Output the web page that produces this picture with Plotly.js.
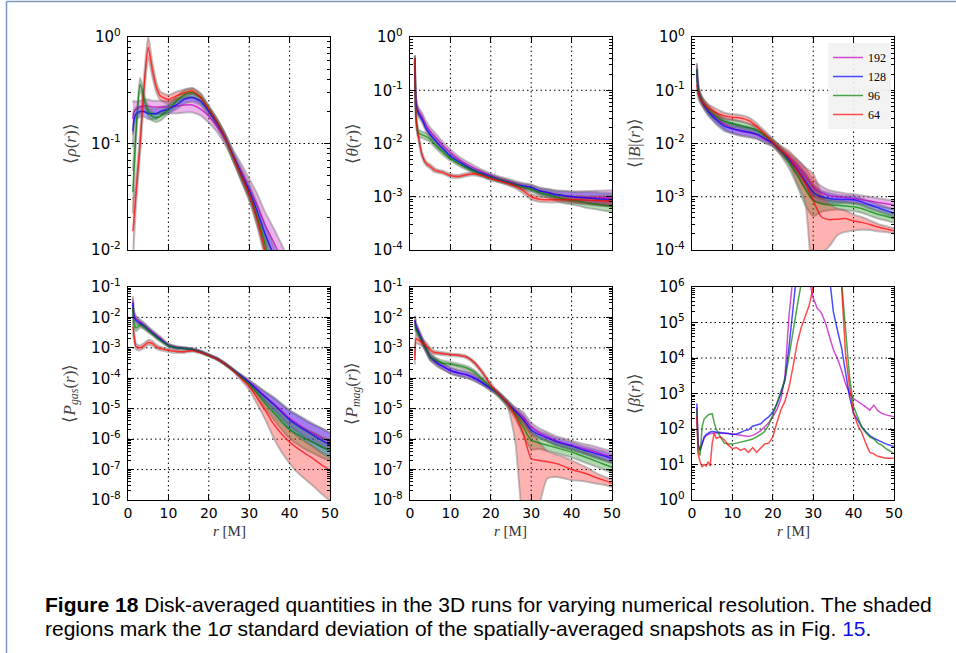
<!DOCTYPE html>
<html><head><meta charset="utf-8">
<script src="https://cdn.plot.ly/plotly-3.0.1.min.js"></script>
<style>html,body{margin:0;padding:0;background:#fff;}#chart{width:956px;height:653px;}</style>
</head><body><div id="chart"></div>
<script>
// ---------------- DATA ----------------
const resolutions = ["192", "128", "96", "64"];
const r = [1.2, 1.5, 2, 3, 4, 5, 6, 7, 8, 10, 12, 14, 16, 18, 20, 22, 24, 26, 28, 30, 32, 34, 36, 38, 40, 42, 44, 46, 48, 50];
const xTicks = [0, 10, 20, 30, 40, 50];

// <rho(r)>
const rho192 = [0.17, 0.2, 0.21, 0.22, 0.225, 0.225, 0.22, 0.22, 0.22, 0.22, 0.225, 0.23, 0.23, 0.21, 0.18, 0.145, 0.11, 0.078, 0.055, 0.038, 0.026, 0.017, 0.012, 0.0082, 0.0055, 0.0037, 0.0025, 0.0017, 0.0012, 0.0008];
const rho128 = [0.13, 0.17, 0.19, 0.2, 0.2, 0.19, 0.19, 0.19, 0.2, 0.21, 0.23, 0.26, 0.27, 0.25, 0.2, 0.155, 0.115, 0.077, 0.052, 0.036, 0.023, 0.014, 0.009, 0.0055, 0.0033, 0.002, 0.0012, 0.0008, 0.0005, 0.0003];
const rho96  = [0.035, 0.06, 0.13, 0.36, 0.26, 0.2, 0.18, 0.175, 0.18, 0.21, 0.25, 0.29, 0.3, 0.27, 0.21, 0.16, 0.115, 0.075, 0.05, 0.034, 0.02, 0.011, 0.0055, 0.0028, 0.0014, 0.0007, 0.00035, 0.0002, 0.0001, 0.00005];
const rho64  = [0.015, 0.02, 0.035, 0.1, 0.35, 0.8, 0.5, 0.34, 0.28, 0.26, 0.28, 0.3, 0.31, 0.27, 0.21, 0.16, 0.115, 0.075, 0.05, 0.033, 0.019, 0.0095, 0.0045, 0.002, 0.001, 0.0005, 0.00025, 0.00012, 0.00006, 0.00003];
const rho192_sd = [0.15, 0.1, 0.07, 0.06, 0.06, 0.06, 0.06, 0.06, 0.06, 0.06, 0.07, 0.07, 0.07, 0.06, 0.06, 0.05, 0.05, 0.05, 0.07, 0.09, 0.11, 0.12, 0.13, 0.14, 0.15, 0.15, 0.15, 0.15, 0.15, 0.15];
const rho128_sd = [0.15, 0.08, 0.06, 0.05, 0.05, 0.05, 0.05, 0.05, 0.04, 0.04, 0.04, 0.04, 0.04, 0.04, 0.04, 0.04, 0.04, 0.04, 0.05, 0.06, 0.07, 0.08, 0.09, 0.1, 0.1, 0.1, 0.1, 0.1, 0.1, 0.1];
const rho96_sd  = [0.2, 0.15, 0.08, 0.06, 0.05, 0.05, 0.04, 0.04, 0.04, 0.04, 0.04, 0.04, 0.04, 0.04, 0.03, 0.03, 0.03, 0.04, 0.05, 0.06, 0.07, 0.08, 0.08, 0.08, 0.08, 0.08, 0.08, 0.08, 0.08, 0.08];
const rho64_sd  = [0.3, 0.2, 0.12, 0.1, 0.1, 0.1, 0.07, 0.05, 0.04, 0.04, 0.04, 0.03, 0.03, 0.03, 0.03, 0.03, 0.03, 0.03, 0.04, 0.05, 0.06, 0.07, 0.08, 0.08, 0.08, 0.08, 0.08, 0.08, 0.08, 0.08];

// <theta(r)>
const th192 = [0.4, 0.06, 0.042, 0.032, 0.022, 0.017, 0.014, 0.0115, 0.0095, 0.0068, 0.0051, 0.0041, 0.0034, 0.0029, 0.0025, 0.0022, 0.002, 0.0018, 0.0016, 0.0015, 0.0013, 0.0012, 0.0011, 0.00105, 0.001, 0.00098, 0.00097, 0.00096, 0.00095, 0.00094];
const th128 = [0.4, 0.055, 0.038, 0.028, 0.019, 0.0148, 0.012, 0.0098, 0.0082, 0.0058, 0.0046, 0.0037, 0.0031, 0.0027, 0.0024, 0.0021, 0.0019, 0.0017, 0.0016, 0.0015, 0.0013, 0.0012, 0.0011, 0.00105, 0.001, 0.00097, 0.00095, 0.00092, 0.0009, 0.00088];
const th96  = [0.4, 0.03, 0.016, 0.0145, 0.0135, 0.012, 0.0098, 0.0082, 0.007, 0.0052, 0.0042, 0.0035, 0.003, 0.0026, 0.0023, 0.0021, 0.0019, 0.0017, 0.0015, 0.0014, 0.0012, 0.0011, 0.001, 0.00092, 0.00086, 0.00082, 0.00077, 0.00073, 0.00069, 0.00065];
const th64  = [0.4, 0.03, 0.015, 0.006, 0.0042, 0.0037, 0.0032, 0.003, 0.0029, 0.0025, 0.0024, 0.0026, 0.0027, 0.0025, 0.0022, 0.002, 0.0018, 0.0016, 0.0013, 0.001, 0.0009, 0.00088, 0.00088, 0.00088, 0.00088, 0.00087, 0.00086, 0.00085, 0.00084, 0.00083];
const th192_sd = [0.05, 0.08, 0.07, 0.07, 0.07, 0.07, 0.07, 0.07, 0.06, 0.06, 0.05, 0.05, 0.05, 0.04, 0.04, 0.04, 0.04, 0.04, 0.05, 0.05, 0.06, 0.07, 0.08, 0.09, 0.1, 0.11, 0.12, 0.13, 0.14, 0.15];
const th128_sd = [0.05, 0.08, 0.07, 0.06, 0.06, 0.06, 0.06, 0.06, 0.05, 0.05, 0.04, 0.04, 0.04, 0.04, 0.04, 0.04, 0.04, 0.04, 0.04, 0.05, 0.05, 0.06, 0.07, 0.08, 0.09, 0.1, 0.11, 0.12, 0.12, 0.12];
const th96_sd  = [0.05, 0.1, 0.07, 0.06, 0.06, 0.05, 0.05, 0.05, 0.05, 0.04, 0.04, 0.04, 0.04, 0.04, 0.04, 0.04, 0.04, 0.04, 0.04, 0.05, 0.05, 0.06, 0.07, 0.08, 0.08, 0.09, 0.1, 0.1, 0.1, 0.1];
const th64_sd  = [0.05, 0.1, 0.08, 0.05, 0.04, 0.04, 0.04, 0.03, 0.03, 0.03, 0.03, 0.03, 0.03, 0.03, 0.03, 0.03, 0.03, 0.04, 0.05, 0.05, 0.05, 0.05, 0.05, 0.05, 0.06, 0.07, 0.08, 0.09, 0.1, 0.1];

// <|B|(r)>
const B192 = [0.26, 0.12, 0.077, 0.053, 0.042, 0.035, 0.03, 0.026, 0.023, 0.019, 0.017, 0.016, 0.0145, 0.012, 0.0101, 0.0075, 0.0055, 0.0038, 0.0025, 0.0015, 0.0012, 0.00105, 0.001, 0.00096, 0.00093, 0.00088, 0.00083, 0.00078, 0.00074, 0.0007];
const B128 = [0.24, 0.11, 0.075, 0.052, 0.04, 0.033, 0.028, 0.024, 0.021, 0.019, 0.0175, 0.0165, 0.015, 0.0125, 0.0101, 0.0072, 0.005, 0.0033, 0.002, 0.0012, 0.001, 0.00093, 0.0009, 0.00089, 0.00088, 0.0008, 0.0007, 0.00062, 0.00055, 0.00049];
const B96  = [0.25, 0.11, 0.077, 0.055, 0.044, 0.037, 0.032, 0.028, 0.026, 0.024, 0.022, 0.02, 0.018, 0.014, 0.0105, 0.0072, 0.0045, 0.0026, 0.0014, 0.00086, 0.00074, 0.0007, 0.00069, 0.00067, 0.00065, 0.0006, 0.00053, 0.00047, 0.00043, 0.00039];
const B64  = [0.127, 0.09, 0.07, 0.055, 0.046, 0.042, 0.038, 0.035, 0.033, 0.031, 0.03, 0.027, 0.021, 0.015, 0.0105, 0.0075, 0.0055, 0.0032, 0.0018, 0.00086, 0.00042, 0.00037, 0.00038, 0.00039, 0.00035, 0.00033, 0.0003, 0.00027, 0.00025, 0.00023];
const B192_sd = [0.1, 0.08, 0.07, 0.07, 0.08, 0.08, 0.09, 0.09, 0.09, 0.09, 0.09, 0.09, 0.08, 0.07, 0.06, 0.06, 0.08, 0.12, 0.15, 0.15, 0.12, 0.1, 0.09, 0.08, 0.08, 0.08, 0.08, 0.08, 0.08, 0.08];
const B128_sd = [0.1, 0.08, 0.07, 0.07, 0.08, 0.08, 0.09, 0.09, 0.09, 0.09, 0.09, 0.09, 0.08, 0.07, 0.06, 0.06, 0.08, 0.12, 0.15, 0.15, 0.12, 0.1, 0.08, 0.07, 0.07, 0.07, 0.07, 0.07, 0.07, 0.07];
const B96_sd  = [0.1, 0.08, 0.07, 0.07, 0.07, 0.07, 0.07, 0.07, 0.07, 0.07, 0.07, 0.07, 0.07, 0.06, 0.06, 0.08, 0.12, 0.2, 0.3, 0.3, 0.15, 0.1, 0.08, 0.08, 0.08, 0.08, 0.08, 0.08, 0.08, 0.08];
const B64_sd  = [0.1, 0.1, 0.08, 0.08, 0.08, 0.07, 0.07, 0.07, 0.06, 0.06, 0.06, 0.06, 0.06, 0.06, 0.06, 0.08, 0.12, 0.2, 0.3, 0.5, 0.45, 0.3, 0.2, 0.15, 0.12, 0.1, 0.08, 0.06, 0.05, 0.05];
const B64_sdLow = [0.1, 0.1, 0.08, 0.08, 0.08, 0.07, 0.07, 0.07, 0.06, 0.06, 0.06, 0.06, 0.06, 0.06, 0.06, 0.08, 0.12, 0.25, 0.35, 1.5, 0.7, 0.5, 0.3, 0.25, 0.18, 0.14, 0.1, 0.08, 0.06, 0.05];

// <P_gas(r)>
const Pg192 = [0.036, 0.012, 0.009, 0.0071, 0.0055, 0.0042, 0.0033, 0.0026, 0.0021, 0.00125, 0.00105, 0.00098, 0.0009, 0.00075, 0.00058, 0.00045, 0.0003, 0.00019, 0.00012, 7.6e-5, 4.4e-5, 2.5e-5, 1.5e-5, 8.5e-6, 4.8e-6, 3.2e-6, 2.1e-6, 1.5e-6, 1.1e-6, 8e-7];
const Pg128 = [0.03, 0.011, 0.008, 0.0065, 0.0052, 0.004, 0.0031, 0.0024, 0.0019, 0.0012, 0.001, 0.00095, 0.00088, 0.00074, 0.00057, 0.00044, 0.0003, 0.00019, 0.00012, 7.2e-5, 4.2e-5, 2.4e-5, 1.4e-5, 7.8e-6, 4.3e-6, 2.8e-6, 1.9e-6, 1.3e-6, 9e-7, 6.5e-7];
const Pg96  = [0.02, 0.006, 0.0045, 0.0055, 0.005, 0.0038, 0.003, 0.0023, 0.0018, 0.0012, 0.001, 0.00095, 0.00088, 0.00074, 0.00057, 0.00044, 0.0003, 0.00019, 0.00011, 6.5e-5, 3.2e-5, 1.5e-5, 7.5e-6, 3.8e-6, 2.1e-6, 1.4e-6, 1e-6, 7.5e-7, 5.5e-7, 4.3e-7];
const Pg64  = [0.005, 0.0025, 0.0011, 0.001, 0.0012, 0.0015, 0.0014, 0.0011, 0.00095, 0.00083, 0.00076, 0.00075, 0.00082, 0.0007, 0.00056, 0.00043, 0.00029, 0.00018, 0.0001, 5.5e-5, 2.2e-5, 8.6e-6, 3.2e-6, 1.5e-6, 8e-7, 5e-7, 3.3e-7, 2.2e-7, 1.4e-7, 9.5e-8];
const Pg192_sd = [0.15, 0.12, 0.1, 0.08, 0.08, 0.07, 0.06, 0.06, 0.05, 0.04, 0.04, 0.03, 0.03, 0.03, 0.03, 0.03, 0.03, 0.03, 0.04, 0.06, 0.1, 0.14, 0.18, 0.22, 0.25, 0.27, 0.28, 0.29, 0.3, 0.3];
const Pg128_sd = [0.15, 0.12, 0.1, 0.08, 0.08, 0.07, 0.06, 0.06, 0.05, 0.04, 0.04, 0.03, 0.03, 0.03, 0.03, 0.03, 0.03, 0.03, 0.04, 0.07, 0.12, 0.18, 0.24, 0.28, 0.32, 0.35, 0.37, 0.38, 0.4, 0.4];
const Pg96_sd  = [0.2, 0.15, 0.1, 0.08, 0.08, 0.07, 0.06, 0.06, 0.05, 0.04, 0.04, 0.03, 0.03, 0.03, 0.03, 0.03, 0.03, 0.03, 0.04, 0.07, 0.12, 0.18, 0.22, 0.26, 0.3, 0.32, 0.34, 0.35, 0.35, 0.35];
const Pg64_sd  = [0.2, 0.15, 0.1, 0.08, 0.08, 0.08, 0.08, 0.07, 0.06, 0.05, 0.05, 0.04, 0.04, 0.03, 0.03, 0.03, 0.03, 0.03, 0.05, 0.1, 0.15, 0.22, 0.3, 0.35, 0.4, 0.4, 0.4, 0.4, 0.4, 0.4];
const Pg64_sdLow = [0.2, 0.15, 0.1, 0.08, 0.08, 0.08, 0.08, 0.07, 0.06, 0.05, 0.05, 0.04, 0.04, 0.03, 0.03, 0.03, 0.03, 0.03, 0.06, 0.12, 0.2, 0.3, 0.45, 0.6, 0.7, 0.8, 0.85, 0.9, 0.95, 1.0];

// <P_mag(r)>
const Pm192 = [0.008, 0.005, 0.0038, 0.0018, 0.0009, 0.0005, 0.00038, 0.0003, 0.00025, 0.00018, 0.00015, 0.00013, 0.000105, 7e-5, 4.6e-5, 3e-5, 1.6e-5, 9e-6, 5.5e-6, 2.5e-6, 1.6e-6, 1.2e-6, 9e-7, 7.5e-7, 6.3e-7, 5.3e-7, 4.5e-7, 3.8e-7, 3.1e-7, 2.6e-7];
const Pm128 = [0.008, 0.005, 0.0035, 0.0017, 0.0009, 0.0005, 0.00038, 0.0003, 0.00025, 0.00018, 0.00015, 0.00013, 0.0001, 7e-5, 4.6e-5, 3e-5, 1.6e-5, 8.5e-6, 4.5e-6, 2e-6, 1.4e-6, 1.1e-6, 8.5e-7, 7e-7, 6e-7, 4.8e-7, 4e-7, 3.3e-7, 2.8e-7, 2.3e-7];
const Pm96  = [0.006, 0.004, 0.003, 0.0016, 0.0009, 0.0005, 0.00042, 0.00036, 0.00032, 0.0003, 0.00026, 0.00022, 0.00016, 9e-5, 5e-5, 2.8e-5, 1.5e-5, 7e-6, 2.5e-6, 9.3e-7, 7.5e-7, 6.3e-7, 5.3e-7, 4.5e-7, 3.8e-7, 3e-7, 2.4e-7, 1.9e-7, 1.5e-7, 1.2e-7];
const Pm64  = [0.0004, 0.002, 0.0018, 0.0015, 0.0012, 0.00085, 0.0007, 0.00068, 0.00065, 0.0006, 0.00057, 0.0005, 0.00032, 0.00015, 6e-5, 3e-5, 1.6e-5, 6e-6, 1.6e-6, 2.3e-7, 2e-7, 1.8e-7, 1.6e-7, 1.3e-7, 1e-7, 8.5e-8, 7e-8, 5.5e-8, 4.5e-8, 3.5e-8];
const Pm192_sd = [0.15, 0.12, 0.1, 0.1, 0.1, 0.1, 0.1, 0.1, 0.1, 0.1, 0.1, 0.1, 0.1, 0.08, 0.07, 0.07, 0.08, 0.1, 0.15, 0.15, 0.15, 0.15, 0.15, 0.15, 0.15, 0.15, 0.16, 0.17, 0.18, 0.2];
const Pm128_sd = [0.15, 0.12, 0.1, 0.1, 0.1, 0.1, 0.1, 0.1, 0.1, 0.1, 0.1, 0.1, 0.1, 0.08, 0.07, 0.07, 0.08, 0.1, 0.15, 0.15, 0.12, 0.12, 0.12, 0.12, 0.12, 0.12, 0.13, 0.14, 0.15, 0.15];
const Pm96_sd  = [0.15, 0.12, 0.1, 0.1, 0.1, 0.1, 0.08, 0.08, 0.08, 0.06, 0.06, 0.06, 0.06, 0.06, 0.06, 0.07, 0.1, 0.15, 0.25, 0.3, 0.2, 0.18, 0.18, 0.18, 0.18, 0.18, 0.18, 0.18, 0.18, 0.18];
const Pm64_sd  = [0.15, 0.15, 0.12, 0.12, 0.1, 0.08, 0.06, 0.05, 0.05, 0.04, 0.04, 0.04, 0.05, 0.06, 0.06, 0.06, 0.08, 0.2, 0.5, 0.9, 0.6, 0.35, 0.3, 0.3, 0.3, 0.25, 0.2, 0.15, 0.12, 0.12];
const Pm64_sdLow = [0.15, 0.15, 0.12, 0.12, 0.1, 0.08, 0.06, 0.05, 0.05, 0.04, 0.04, 0.04, 0.05, 0.06, 0.06, 0.06, 0.1, 0.8, 3, 3, 1.5, 0.55, 0.45, 0.4, 0.35, 0.3, 0.25, 0.2, 0.15, 0.12];

// <beta(r)>
const rBeta = [1.2, 1.5, 2, 2.5, 3, 3.5, 4, 4.5, 5, 5.5, 6, 7, 8, 9, 10, 11, 12, 13, 14, 15, 16, 17, 18, 19, 20, 21, 22, 23, 24, 25, 26, 27, 28, 29, 30, 31, 32, 33, 34, 35, 36, 37, 38, 39, 40, 41, 42, 43, 44, 45, 46, 47, 48, 49, 50];
const beta192 = [400, 40, 25, 40, 55, 65, 70, 75, 75, 78, 78, 76, 76, 75, 72, 70, 68, 64, 62, 66, 75, 90, 115, 150, 220, 350, 700, 3000, 1.5e5, 2e6, 5e6, 8e6, 5e6, 1.5e6, 5e5, 2.5e5, 1.9e5, 1e5, 3.9e4, 1.7e4, 9.6e3, 4.6e3, 1.9e3, 1000, 720, 600, 525, 420, 340, 470, 330, 275, 250, 230, 220];
const beta128 = [525, 35, 25, 40, 60, 70, 78, 82, 85, 85, 82, 80, 78, 75, 70, 72, 80, 90, 95, 120, 130, 140, 180, 220, 300, 500, 1000, 2400, 2e4, 4e5, 3e6, 6e6, 8e6, 9e6, 9e6, 8e6, 6e6, 4e6, 2e6, 2e5, 6e4, 2e4, 4e3, 800, 275, 180, 115, 85, 65, 55, 48, 42, 38, 35, 32];
const beta96  = [350, 25, 18, 115, 190, 220, 250, 260, 270, 150, 100, 60, 40, 38, 38, 40, 42, 44, 48, 52, 60, 70, 85, 130, 250, 525, 1000, 2400, 1.1e4, 6e4, 2.7e5, 1.2e6, 5e6, 8e6, 9e6, 9e6, 9e6, 8e6, 7e6, 5e6, 3e6, 1.5e6, 6e4, 2.9e3, 420, 220, 115, 80, 60, 52, 40, 35, 28, 24, 20];
const beta64  = [220, 20, 12, 8.5, 10, 9, 12, 9, 40, 75, 55, 60, 50, 35, 28, 30, 25, 28, 22, 30, 22, 28, 38, 40, 60, 150, 350, 600, 1500, 5.6e3, 2.5e4, 7e4, 1.5e5, 3e5, 1e6, 3e6, 6e6, 8e6, 8e6, 6e6, 4e6, 1.2e6, 1.3e4, 1.5e3, 275, 130, 80, 40, 22, 20, 17, 16, 15, 15, 15];

// ---------------- STYLE / LAYOUT ----------------
const W = 956, H = 653;
const colPx = [[128, 330], [410, 612], [692, 894]];
const rowPx = [[37, 250], [287, 500]];
const baseColors = [[191, 0, 191], [0, 0, 255], [0, 128, 0], [255, 0, 0]];
const rgba = (c, a) => `rgba(${c[0]},${c[1]},${c[2]},${a})`;
const GRID = {color: '#000', width: 1, dash: '1.5px,3px'};

const panels = [
  {x: r, lines: [rho192, rho128, rho96, rho64], up: [rho192_sd, rho128_sd, rho96_sd, rho64_sd], dn: [rho192_sd, rho128_sd, rho96_sd, rho64_sd], yr: [-2, 0], title: '⟨<i>ρ</i>(<i>r</i>)⟩'},
  {x: r, lines: [th192, th128, th96, th64], up: [th192_sd, th128_sd, th96_sd, th64_sd], dn: [th192_sd, th128_sd, th96_sd, th64_sd], yr: [-4, 0], title: '⟨<i>θ</i>(<i>r</i>)⟩'},
  {x: r, lines: [B192, B128, B96, B64], up: [B192_sd, B128_sd, B96_sd, B64_sd], dn: [B192_sd, B128_sd, B96_sd, B64_sdLow], yr: [-4, 0], title: '⟨|<i>B</i>|(<i>r</i>)⟩', legend: true},
  {x: r, lines: [Pg192, Pg128, Pg96, Pg64], up: [Pg192_sd, Pg128_sd, Pg96_sd, Pg64_sd], dn: [Pg192_sd, Pg128_sd, Pg96_sd, Pg64_sdLow], yr: [-8, -1], title: '⟨<i>P</i><sub><i>gas</i></sub>(<i>r</i>)⟩'},
  {x: r, lines: [Pm192, Pm128, Pm96, Pm64], up: [Pm192_sd, Pm128_sd, Pm96_sd, Pm64_sd], dn: [Pm192_sd, Pm128_sd, Pm96_sd, Pm64_sdLow], yr: [-8, -1], title: '⟨<i>P</i><sub><i>mag</i></sub>(<i>r</i>)⟩'},
  {x: rBeta, lines: [beta192, beta128, beta96, beta64], up: null, dn: null, yr: [0, 6], title: '⟨<i>β</i>(<i>r</i>)⟩', jagged: true}
];

const traces = [];
const layout = {
  width: W, height: H, margin: {l: 0, r: 0, t: 0, b: 0},
  paper_bgcolor: '#ffffff', plot_bgcolor: 'rgba(0,0,0,0)',
  font: {family: 'DejaVu Sans', size: 13, color: '#000'},
  showlegend: true,
  legend: {x: 891 / W, xanchor: 'right', y: 1 - 43 / H, yanchor: 'top', traceorder: 'normal',
           bgcolor: 'rgba(242,242,242,0.92)', borderwidth: 0,
           font: {family: 'Liberation Serif', size: 12, color: '#000'},
           tracegroupgap: 0, itemwidth: 30},
  annotations: [], shapes: []
};

panels.forEach((p, i) => {
  const sfx = i === 0 ? '' : String(i + 1);
  const xa = 'x' + sfx, ya = 'y' + sfx;
  const row = i < 3 ? 0 : 1, col = i % 3;
  const shape = p.jagged ? 'linear' : 'spline';
  if (p.up) {
    p.lines.forEach((v, k) => {
      const lo = v.map((y, j) => y / Math.pow(10, p.dn[k][j]));
      const hi = v.map((y, j) => y * Math.pow(10, p.up[k][j]));
      traces.push({x: p.x, y: lo, xaxis: xa, yaxis: ya, mode: 'lines', showlegend: false, hoverinfo: 'skip',
                   line: {color: 'rgba(120,120,120,0.45)', width: 2, shape: shape, smoothing: 0.6}});
      traces.push({x: p.x, y: hi, xaxis: xa, yaxis: ya, mode: 'lines', showlegend: false, hoverinfo: 'skip',
                   fill: 'tonexty', fillcolor: rgba(baseColors[k], 0.3),
                   line: {color: 'rgba(120,120,120,0.45)', width: 2, shape: shape, smoothing: 0.6}});
    });
  }
  p.lines.forEach((v, k) => {
    traces.push({x: p.x, y: v, xaxis: xa, yaxis: ya, mode: 'lines', name: resolutions[k],
                 showlegend: !!p.legend,
                 line: {color: rgba(baseColors[k], 0.7), width: 1.5, shape: shape, smoothing: 0.6}});
  });

  const majors = [], labels = [], minors = [];
  for (let d = p.yr[0]; d <= p.yr[1]; d++) {
    majors.push(Math.pow(10, d));
    labels.push('10<sup>' + (d < 0 ? '-' + (-d) : d) + '</sup>');
    if (d < p.yr[1]) for (let m = 2; m <= 9; m++) minors.push(m * Math.pow(10, d));
    if (d > p.yr[0] && d < p.yr[1]) {
      const v = Math.pow(10, d);
      layout.shapes.push({type: 'line', xref: xa + ' domain', yref: ya, x0: 0, x1: 1, y0: v, y1: v, layer: 'below', line: GRID});
    }
  }
  xTicks.slice(1, -1).forEach(t => {
    layout.shapes.push({type: 'line', xref: xa, yref: ya + ' domain', x0: t, x1: t, y0: 0, y1: 1, layer: 'below', line: GRID});
  });

  layout['xaxis' + sfx] = {
    domain: [colPx[col][0] / W, colPx[col][1] / W], anchor: ya,
    range: [0, 50], tickmode: 'array', tickvals: xTicks,
    showticklabels: row === 1, ticks: 'inside', ticklen: 6, tickwidth: 1, tickcolor: '#000',
    showline: true, linecolor: '#000', linewidth: 1.3, mirror: 'allticks',
    showgrid: false, zeroline: false,
    tickfont: {family: 'DejaVu Sans', size: 14, color: '#000'}, fixedrange: true
  };
  layout['yaxis' + sfx] = {
    domain: [1 - rowPx[row][1] / H, 1 - rowPx[row][0] / H], anchor: xa,
    type: 'log', range: p.yr, tickmode: 'array', tickvals: majors, ticktext: labels,
    ticks: 'inside', ticklen: 6, tickwidth: 1, tickcolor: '#000',
    minor: {tickmode: 'array', tickvals: minors, ticks: 'inside', ticklen: 3, tickwidth: 1, tickcolor: '#000', showgrid: false},
    showline: true, linecolor: '#000', linewidth: 1.3, mirror: 'allticks',
    showgrid: false, zeroline: false,
    tickfont: {family: 'DejaVu Sans', size: 15, color: '#000'}, ticklabelstandoff: 3, fixedrange: true
  };
  layout.annotations.push({xref: 'paper', yref: 'paper', x: (colPx[col][0] - 58) / W,
    y: 1 - (rowPx[row][0] + rowPx[row][1]) / 2 / H, text: p.title, textangle: -90, showarrow: false,
    xanchor: 'center', yanchor: 'middle', font: {family: 'Liberation Serif', size: 17, color: '#444'}});
  if (row === 1) {
    layout.annotations.push({xref: 'paper', yref: 'paper', x: (colPx[col][0] + colPx[col][1]) / 2 / W,
      y: 1 - 531 / H, text: '<i>r</i> [M]', showarrow: false, xanchor: 'center', yanchor: 'middle',
      font: {family: 'Liberation Serif', size: 15, color: '#333'}});
  }
});

// caption
layout.annotations.push({xref: 'paper', yref: 'paper', x: 43 / W, y: 1 - 604 / H, xanchor: 'left', yanchor: 'middle', showarrow: false, align: 'left',
  text: '<b>Figure 18</b> Disk-averaged quantities in the 3D runs for varying numerical resolution. The shaded',
  font: {family: 'Liberation Sans', size: 21, color: '#000'}});
layout.annotations.push({xref: 'paper', yref: 'paper', x: 43 / W, y: 1 - 628 / H, xanchor: 'left', yanchor: 'middle', showarrow: false, align: 'left',
  text: 'regions mark the 1<i>σ</i> standard deviation of the spatially-averaged snapshots as in Fig. <span style="color:#1010ee">15</span>.',
  font: {family: 'Liberation Sans', size: 21, color: '#000'}});

// page frame
layout.shapes.push({type: 'line', xref: 'paper', yref: 'paper', x0: 6.5 / W, x1: 1, y0: 1 - 1.5 / H, y1: 1 - 1.5 / H, line: {color: '#7b98bf', width: 1.5}});
layout.shapes.push({type: 'line', xref: 'paper', yref: 'paper', x0: 6.5 / W, x1: 6.5 / W, y0: 0, y1: 1 - 1.5 / H, line: {color: '#7b98bf', width: 1.5}});

Plotly.newPlot('chart', traces, layout, {displayModeBar: false, staticPlot: true});
</script></body></html>
